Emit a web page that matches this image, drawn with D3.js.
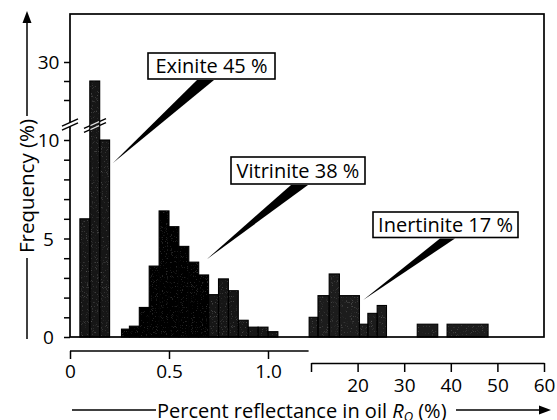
<!DOCTYPE html>
<html>
<head>
<meta charset="utf-8">
<script src="https://cdn.jsdelivr.net/npm/d3@7/dist/d3.min.js"></script>
<style>
  html, body { margin: 0; padding: 0; background: #fff; }
  svg { display: block; font-family: "Open Sans", sans-serif; }
</style>
</head>
<body>
<svg id="chart" width="557" height="420"></svg>
<script>
// Reflectance histograms of the three maceral groups (frequency in %)
const exiniteEdges = [0.05, 0.10, 0.15, 0.20];
const exiniteFreq = [6.0, 25, 10.0];

const vitriniteEdges = [0.26, 0.30, 0.35, 0.40, 0.45, 0.50, 0.55, 0.60, 0.65,
                        0.70, 0.75, 0.80, 0.85, 0.90, 0.95, 1.00, 1.05];
const vitriniteFreq = [0.4, 0.55, 1.5, 3.6, 6.4, 5.6, 4.6, 3.8, 3.15,
                       2.15, 2.95, 2.35, 0.85, 0.5, 0.5, 0.27];

// Inertinite is read on the expanded 10-60 % reflectance axis
const inertiniteStart = [9.6, 11.5, 13.9, 16.1, 20.4, 22.2, 24.2, 32.8, 39.2];
const inertiniteEnd   = [11.5, 13.9, 16.1, 20.4, 22.2, 24.2, 26.2, 37.2, 48.0];
const inertiniteFreq  = [1.0, 2.1, 3.2, 2.1, 0.65, 1.2, 1.6, 0.65, 0.65];

const groupNames = ["Exinite", "Vitrinite", "Inertinite"];
const groupShares = [45, 38, 17];

// Axis ticks and labels
const yTicksLow = [0, 1, 2, 3, 4, 5, 6, 7, 8, 9, 10];
const yTicksHigh = [20, 25, 30];
const yLabels = [0, 5, 10, 30];
const xTicksLow = [0, 0.5, 1.0];
const xTicksHigh = [10, 20, 30, 40, 50, 60];
const xLabelsHigh = [20, 30, 40, 50, 60];

const svg = d3.select("#chart");

// Fine print grain for the histogram bars
const defs = svg.append("defs");
function grainFilter(id, strength) {
  const f = defs.append("filter").attr("id", id).attr("x", 0).attr("y", 0).attr("width", 1).attr("height", 1);
  f.append("feTurbulence").attr("type", "fractalNoise").attr("baseFrequency", 1.2)
    .attr("numOctaves", 1).attr("seed", 7).attr("result", "noise");
  f.append("feColorMatrix").attr("in", "noise").attr("type", "matrix")
    .attr("values", `0 0 0 0 0.4  0 0 0 0 0.4  0 0 0 0 0.4  0 0 0 ${strength * 2.2} ${-strength * 1.35}`)
    .attr("result", "specks");
  f.append("feComposite").attr("in", "specks").attr("in2", "SourceGraphic").attr("operator", "in").attr("result", "inside");
  const m = f.append("feMerge");
  m.append("feMergeNode").attr("in", "SourceGraphic");
  m.append("feMergeNode").attr("in", "inside");
}
grainFilter("grainStrong", 0.4);
grainFilter("grainWeak", 0.18);

// Split scales: low and high reflectance, low and high frequency
const xLo = d3.scaleLinear().domain([0, 1]).range([70, 268]);
const xHi = d3.scaleLinear().domain([10, 60]).range([311, 544]);
const yLo = d3.scaleLinear().domain([0, 10]).range([337, 140]);
const yHi = d3.scaleLinear().domain([20, 30]).range([100, 62]);
const yOf = v => (v <= 12 ? yLo(v) : yHi(v));
const base = yLo(0);

const bars = [];
exiniteFreq.forEach((v, i) => bars.push({ x0: xLo(exiniteEdges[i]), x1: xLo(exiniteEdges[i + 1]), v, fill: "#181818", grain: "grainStrong" }));
vitriniteFreq.forEach((v, i) => bars.push({
  x0: xLo(vitriniteEdges[i]), x1: xLo(vitriniteEdges[i + 1]), v,
  fill: vitriniteEdges[i] >= 0.7 ? "#121212" : "#060606",
  grain: vitriniteEdges[i] >= 0.7 ? "grainStrong" : "grainWeak"
}));
inertiniteFreq.forEach((v, i) => bars.push({ x0: xHi(inertiniteStart[i]), x1: xHi(inertiniteEnd[i]), v, fill: "#1a1a1a", grain: "grainStrong" }));

svg.append("g").selectAll("rect").data(bars).join("rect")
  .attr("x", d => d.x0)
  .attr("y", d => yOf(d.v))
  .attr("width", d => d.x1 - d.x0)
  .attr("height", d => base - yOf(d.v))
  .attr("fill", d => d.fill)
  .attr("filter", d => `url(#${d.grain})`);

// Outline each bar after the texture so the edges stay crisp
svg.append("g").selectAll("rect").data(bars).join("rect")
  .attr("x", d => d.x0)
  .attr("y", d => yOf(d.v))
  .attr("width", d => d.x1 - d.x0)
  .attr("height", d => base - yOf(d.v))
  .attr("fill", "none")
  .attr("stroke", "#000")
  .attr("stroke-width", 1.1);

// Plot frame
svg.append("rect")
  .attr("x", 70).attr("y", 14)
  .attr("width", xHi(60) - 70).attr("height", base - 14)
  .attr("fill", "none").attr("stroke", "#000").attr("stroke-width", 1.7);

const tickFont = 19;

function styleAxis(g) {
  g.selectAll(".tick line").attr("stroke", "#000").attr("stroke-width", 1.5);
  g.selectAll(".domain").attr("stroke", "#000").attr("stroke-width", 1.5);
  g.selectAll("text").attr("font-family", '"Open Sans", sans-serif').attr("font-size", tickFont).attr("fill", "#000");
}

// Y axis, lower segment
svg.append("g").attr("transform", "translate(70,0)")
  .call(d3.axisLeft(yLo).tickValues(yTicksLow).tickSize(6).tickSizeOuter(0)
    .tickFormat(d => (yLabels.includes(d) ? d : "")))
  .call(g => g.select(".domain").remove())
  .call(styleAxis)
  .call(g => g.selectAll("text").attr("text-anchor", "middle").attr("x", -21.5).attr("dy", "0.36em"));

// Y axis, upper segment
svg.append("g").attr("transform", "translate(70,0)")
  .call(d3.axisLeft(yHi).tickValues(yTicksHigh).tickSize(6).tickSizeOuter(0)
    .tickFormat(d => (yLabels.includes(d) ? d : "")))
  .call(g => g.select(".domain").remove())
  .call(styleAxis)
  .call(g => g.selectAll("text").attr("text-anchor", "middle").attr("x", -21.5).attr("dy", "0.36em"));

// X axis, 0-1 % segment
const gxLo = svg.append("g").attr("transform", "translate(0,351)")
  .call(d3.axisBottom(xLo).tickValues(xTicksLow).tickSize(8).tickSizeOuter(0)
    .tickFormat(d => (d === 0 ? "0" : d3.format(".1f")(d))))
  .call(g => g.select(".domain").remove())
  .call(styleAxis)
  .call(g => g.selectAll("text").attr("y", 13.5));
gxLo.append("line")
  .attr("x1", xLo(0)).attr("x2", xLo(1.205))
  .attr("stroke", "#000").attr("stroke-width", 1.5);

// X axis, 10-60 % segment
svg.append("g").attr("transform", "translate(0,363)")
  .call(d3.axisBottom(xHi).tickValues(xTicksHigh).tickSize(9).tickSizeOuter(0)
    .tickFormat(d => (xLabelsHigh.includes(d) ? d : "")))
  .call(styleAxis)
  .call(g => g.selectAll("text").attr("y", 16));

// Axis break marks on the y axis and across the tall exinite bar
function breakMark(xa, xb, yc, slope, barFrom, barTo) {
  const g = svg.append("g");
  const yAt = (x, off) => yc + slope * (x - (xa + xb) / 2) + off;
  const gap = 2;
  if (barFrom == null) {
    g.append("polygon")
      .attr("points", [[xa, yAt(xa, -gap)], [xb, yAt(xb, -gap)], [xb, yAt(xb, gap)], [xa, yAt(xa, gap)]].join(" "))
      .attr("fill", "#fff");
  }
  [-gap, gap].forEach(off => {
    g.append("line")
      .attr("x1", xa).attr("y1", yAt(xa, off))
      .attr("x2", xb).attr("y2", yAt(xb, off))
      .attr("stroke", "#000").attr("stroke-width", 1.4);
    if (barFrom != null) {
      g.append("line")
        .attr("x1", barFrom).attr("y1", yAt(barFrom, off))
        .attr("x2", barTo).attr("y2", yAt(barTo, off))
        .attr("stroke", "#ddd").attr("stroke-width", 1.3);
    }
  });
}
breakMark(62, 78, 124.5, -0.45);
breakMark(84, 106, 125.5, -0.45, xLo(exiniteEdges[1]) + 0.6, xLo(exiniteEdges[2]) - 0.6);

// Axis titles with arrows
const titleFont = 20;
const yTitleMid = 186;
svg.append("line").attr("x1", 27).attr("x2", 27).attr("y1", 339).attr("y2", 258)
  .attr("stroke", "#000").attr("stroke-width", 1.5);
svg.append("line").attr("x1", 27).attr("x2", 27).attr("y1", 116).attr("y2", 20)
  .attr("stroke", "#000").attr("stroke-width", 1.5);
svg.append("polygon").attr("points", "27,11 22.5,23 31.5,23").attr("fill", "#000");
svg.append("text")
  .attr("transform", `translate(34,${yTitleMid}) rotate(-90)`)
  .attr("text-anchor", "middle")
  .attr("font-size", 20.5)
  .text("Frequency (%)");

svg.append("line").attr("x1", 72).attr("x2", 156).attr("y1", 410).attr("y2", 410)
  .attr("stroke", "#000").attr("stroke-width", 1.5);
svg.append("line").attr("x1", 456).attr("x2", 541).attr("y1", 410).attr("y2", 410)
  .attr("stroke", "#000").attr("stroke-width", 1.5);
svg.append("polygon").attr("points", "551,410 539,405.5 539,414.5").attr("fill", "#000");
const xt = svg.append("text").attr("x", 157).attr("y", 417.5).attr("font-size", titleFont);
xt.append("tspan").text("Percent reflectance in oil ");
xt.append("tspan").attr("font-style", "italic").text("R");
xt.append("tspan").attr("font-style", "italic").attr("font-size", 13).attr("dy", 3.5).text("O");
xt.append("tspan").attr("dy", -3.5).text(" (%)");

// Group labels with wedge-shaped leaders
const labelBoxes = [
  { x: 148, y: 53, w: 127, h: 26, tip: [xLo(0.217), yLo(8.83)], baseL: 197, baseR: 214 },
  { x: 231, y: 157, w: 134, h: 27, tip: [xLo(0.69), yLo(3.94)], baseL: 291, baseR: 308 },
  { x: 373, y: 212, w: 145, h: 25.5, tip: [xHi(21.2), yLo(1.88)], baseL: 440, baseR: 455 }
];
labelBoxes.forEach((b, i) => {
  const by = b.y + b.h;
  svg.append("polygon")
    .attr("points", [b.tip, [b.baseL, by + 1], [b.baseR, by + 1]].join(" "))
    .attr("fill", "#000");
  svg.append("rect")
    .attr("x", b.x).attr("y", b.y).attr("width", b.w).attr("height", b.h)
    .attr("fill", "#fff").attr("stroke", "#000").attr("stroke-width", 1.6);
  svg.append("text")
    .attr("x", b.x + b.w / 2).attr("y", b.y + b.h / 2)
    .attr("dy", "0.36em")
    .attr("text-anchor", "middle")
    .attr("font-size", 20)
    .text(`${groupNames[i]} ${groupShares[i]} %`);
});
</script>
</body>
</html>
